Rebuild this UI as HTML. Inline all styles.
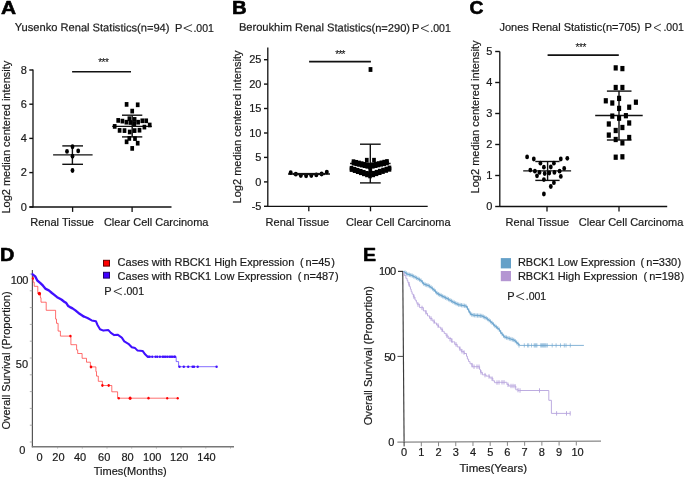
<!DOCTYPE html>
<html><head><meta charset="utf-8"><style>
html,body{margin:0;padding:0;background:#fff;}
svg{display:block;font-family:"Liberation Sans", sans-serif;will-change:transform;}
</style></head><body>
<svg width="685" height="479" viewBox="0 0 685 479">
<rect width="685" height="479" fill="#fff"/>
<text transform="translate(0.97,14.45) scale(1.1,1)" font-size="19" font-weight="bold" fill="#000" stroke="#000" stroke-width="0.6" stroke-linejoin="round">A</text>
<text transform="translate(231.93,14.45) scale(1.07,1)" font-size="19" font-weight="bold" fill="#000" stroke="#000" stroke-width="0.6" stroke-linejoin="round">B</text>
<text transform="translate(469.5,14.2) scale(1.015,1)" font-size="19" font-weight="bold" fill="#000" stroke="#000" stroke-width="0.6" stroke-linejoin="round">C</text>
<text transform="translate(0.05,260.65) scale(1.045,1)" font-size="19" font-weight="bold" fill="#000" stroke="#000" stroke-width="0.6" stroke-linejoin="round">D</text>
<text transform="translate(363.07,260.65) scale(1.03,1)" font-size="19" font-weight="bold" fill="#000" stroke="#000" stroke-width="0.6" stroke-linejoin="round">E</text>
<text x="14.8" y="30.85" font-size="11.12" text-anchor="start" font-weight="normal" fill="#1a1a1a" stroke="#1a1a1a" stroke-width="0.2" transform="rotate(0.29 14.8 30.85)">Yusenko Renal Statistics(n=94)</text>
<text x="174.95000000000002" y="31.6" font-size="11" text-anchor="start" font-weight="normal" fill="#1a1a1a" stroke="#1a1a1a" stroke-width="0.2" >P</text>
<polyline points="192.1,24.6 183.8,28.1 192.1,31.6" fill="none" stroke="#1a1a1a" stroke-width="0.85"/>
<text x="193.44" y="31.6" font-size="10.5" text-anchor="start" font-weight="normal" fill="#1a1a1a" stroke="#1a1a1a" stroke-width="0.2" >.001</text>
<line x1="33" y1="69.4" x2="33" y2="207.6" stroke="#111" stroke-width="1.3" />
<line x1="29.5" y1="207" x2="171.5" y2="207" stroke="#111" stroke-width="1.3" />
<line x1="29.3" y1="70" x2="33" y2="70" stroke="#111" stroke-width="1.4" />
<text x="26.95" y="73.75" font-size="11" text-anchor="end" font-weight="normal" fill="#1a1a1a" stroke="#1a1a1a" stroke-width="0.2" >8</text>
<line x1="29.3" y1="104.2" x2="33" y2="104.2" stroke="#111" stroke-width="1.4" />
<text x="26.95" y="107.95" font-size="11" text-anchor="end" font-weight="normal" fill="#1a1a1a" stroke="#1a1a1a" stroke-width="0.2" >6</text>
<line x1="29.3" y1="138.4" x2="33" y2="138.4" stroke="#111" stroke-width="1.4" />
<text x="26.95" y="142.15" font-size="11" text-anchor="end" font-weight="normal" fill="#1a1a1a" stroke="#1a1a1a" stroke-width="0.2" >4</text>
<line x1="29.3" y1="172.6" x2="33" y2="172.6" stroke="#111" stroke-width="1.4" />
<text x="26.95" y="176.35" font-size="11" text-anchor="end" font-weight="normal" fill="#1a1a1a" stroke="#1a1a1a" stroke-width="0.2" >2</text>
<line x1="29.3" y1="207" x2="33" y2="207" stroke="#111" stroke-width="1.4" />
<text x="26.95" y="210.75" font-size="11" text-anchor="end" font-weight="normal" fill="#1a1a1a" stroke="#1a1a1a" stroke-width="0.2" >0</text>
<line x1="72.6" y1="207" x2="72.6" y2="211.9" stroke="#111" stroke-width="1.3" />
<line x1="132.1" y1="207" x2="132.1" y2="211.9" stroke="#111" stroke-width="1.3" />
<text x="30.3" y="225.7" font-size="11" text-anchor="start" font-weight="normal" fill="#1a1a1a" stroke="#1a1a1a" stroke-width="0.2" >Renal Tissue</text>
<text x="103.9" y="225.9" font-size="11" text-anchor="start" font-weight="normal" fill="#1a1a1a" stroke="#1a1a1a" stroke-width="0.2" >Clear Cell Carcinoma</text>
<text transform="translate(9.8,213.6) rotate(-90)" font-size="11" text-anchor="start" fill="#1a1a1a" stroke="#1a1a1a" stroke-width="0.2">Log2 median centered intensity</text>
<line x1="72.1" y1="71.7" x2="131" y2="71.7" stroke="#111" stroke-width="1.6" />
<text x="98.30" y="65.70" font-size="10" fill="#111" stroke="#111" stroke-width="0.1">*</text>
<text x="101.60" y="65.70" font-size="10" fill="#111" stroke="#111" stroke-width="0.1">*</text>
<text x="105.00" y="65.70" font-size="10" fill="#111" stroke="#111" stroke-width="0.1">*</text>
<line x1="53.1" y1="154.9" x2="92.6" y2="154.9" stroke="#111" stroke-width="1.4" />
<line x1="62.3" y1="145.9" x2="83.0" y2="145.9" stroke="#111" stroke-width="1.4" />
<line x1="62.3" y1="164.3" x2="83.0" y2="164.3" stroke="#111" stroke-width="1.4" />
<line x1="72.4" y1="145.9" x2="72.4" y2="164.3" stroke="#111" stroke-width="1.4" />
<ellipse cx="72.50" cy="146.70" rx="1.9" ry="2.45" fill="#000"/>
<ellipse cx="67.00" cy="151.40" rx="1.9" ry="2.45" fill="#000"/>
<ellipse cx="78.20" cy="150.90" rx="1.9" ry="2.45" fill="#000"/>
<ellipse cx="72.50" cy="156.20" rx="1.9" ry="2.45" fill="#000"/>
<ellipse cx="72.50" cy="170.50" rx="1.9" ry="2.45" fill="#000"/>
<line x1="112.2" y1="126.4" x2="151.8" y2="126.4" stroke="#111" stroke-width="1.4" />
<line x1="122.0" y1="115.2" x2="142.3" y2="115.2" stroke="#111" stroke-width="1.4" />
<line x1="122.0" y1="136.9" x2="142.3" y2="136.9" stroke="#111" stroke-width="1.4" />
<line x1="132.2" y1="115.2" x2="132.2" y2="136.9" stroke="#111" stroke-width="1.4" />
<rect x="124.75" y="102.05" width="3.7" height="4.7" fill="#000"/>
<rect x="135.85" y="102.45" width="3.7" height="4.7" fill="#000"/>
<rect x="130.35" y="108.75" width="3.7" height="4.7" fill="#000"/>
<rect x="116.35" y="118.05" width="3.7" height="4.7" fill="#000"/>
<rect x="120.55" y="118.75" width="3.7" height="4.7" fill="#000"/>
<rect x="124.55" y="119.85" width="3.7" height="4.7" fill="#000"/>
<rect x="127.55" y="116.35" width="3.7" height="4.7" fill="#000"/>
<rect x="128.55" y="120.15" width="3.7" height="4.7" fill="#000"/>
<rect x="132.75" y="117.05" width="3.7" height="4.7" fill="#000"/>
<rect x="132.45" y="121.25" width="3.7" height="4.7" fill="#000"/>
<rect x="136.25" y="119.85" width="3.7" height="4.7" fill="#000"/>
<rect x="140.45" y="118.45" width="3.7" height="4.7" fill="#000"/>
<rect x="144.35" y="118.45" width="3.7" height="4.7" fill="#000"/>
<rect x="147.85" y="122.65" width="3.7" height="4.7" fill="#000"/>
<rect x="142.55" y="124.75" width="3.7" height="4.7" fill="#000"/>
<rect x="112.85" y="124.05" width="3.7" height="4.7" fill="#000"/>
<rect x="117.75" y="128.05" width="3.7" height="4.7" fill="#000"/>
<rect x="122.65" y="128.25" width="3.7" height="4.7" fill="#000"/>
<rect x="127.85" y="129.65" width="3.7" height="4.7" fill="#000"/>
<rect x="132.75" y="128.25" width="3.7" height="4.7" fill="#000"/>
<rect x="137.65" y="127.85" width="3.7" height="4.7" fill="#000"/>
<rect x="127.45" y="136.05" width="3.7" height="4.7" fill="#000"/>
<rect x="133.15" y="136.25" width="3.7" height="4.7" fill="#000"/>
<rect x="124.75" y="139.45" width="3.7" height="4.7" fill="#000"/>
<rect x="135.85" y="140.85" width="3.7" height="4.7" fill="#000"/>
<rect x="130.35" y="146.05" width="3.7" height="4.7" fill="#000"/>
<text x="238.9" y="30.7" font-size="11.1" text-anchor="start" font-weight="normal" fill="#1a1a1a" stroke="#1a1a1a" stroke-width="0.2" transform="rotate(0.4 238.9 30.7)">Beroukhim Renal Statistics(n=290)</text>
<text x="412.04999999999995" y="31.8" font-size="11" text-anchor="start" font-weight="normal" fill="#1a1a1a" stroke="#1a1a1a" stroke-width="0.2" >P</text>
<polyline points="428.8,24.8 421.0,28.3 428.8,31.8" fill="none" stroke="#1a1a1a" stroke-width="0.85"/>
<text x="430.34" y="31.8" font-size="10.5" text-anchor="start" font-weight="normal" fill="#1a1a1a" stroke="#1a1a1a" stroke-width="0.2" >.001</text>
<line x1="267.8" y1="47.5" x2="267.8" y2="206.9" stroke="#111" stroke-width="1.3" />
<line x1="267.8" y1="206.3" x2="427.7" y2="206.3" stroke="#111" stroke-width="1.3" />
<line x1="264.0" y1="59.7" x2="267.8" y2="59.7" stroke="#111" stroke-width="1.4" />
<text x="261.45" y="63.45" font-size="11" text-anchor="end" font-weight="normal" fill="#1a1a1a" stroke="#1a1a1a" stroke-width="0.2" >25</text>
<line x1="264.0" y1="84.1" x2="267.8" y2="84.1" stroke="#111" stroke-width="1.4" />
<text x="261.45" y="87.85" font-size="11" text-anchor="end" font-weight="normal" fill="#1a1a1a" stroke="#1a1a1a" stroke-width="0.2" >20</text>
<line x1="264.0" y1="108.5" x2="267.8" y2="108.5" stroke="#111" stroke-width="1.4" />
<text x="261.45" y="112.25" font-size="11" text-anchor="end" font-weight="normal" fill="#1a1a1a" stroke="#1a1a1a" stroke-width="0.2" >15</text>
<line x1="264.0" y1="133.0" x2="267.8" y2="133.0" stroke="#111" stroke-width="1.4" />
<text x="261.45" y="136.75" font-size="11" text-anchor="end" font-weight="normal" fill="#1a1a1a" stroke="#1a1a1a" stroke-width="0.2" >10</text>
<line x1="264.0" y1="157.4" x2="267.8" y2="157.4" stroke="#111" stroke-width="1.4" />
<text x="261.45" y="161.15" font-size="11" text-anchor="end" font-weight="normal" fill="#1a1a1a" stroke="#1a1a1a" stroke-width="0.2" >5</text>
<line x1="264.0" y1="181.9" x2="267.8" y2="181.9" stroke="#111" stroke-width="1.4" />
<text x="261.45" y="185.65" font-size="11" text-anchor="end" font-weight="normal" fill="#1a1a1a" stroke="#1a1a1a" stroke-width="0.2" >0</text>
<line x1="264.0" y1="206.3" x2="267.8" y2="206.3" stroke="#111" stroke-width="1.4" />
<text x="261.45" y="210.05" font-size="11" text-anchor="end" font-weight="normal" fill="#1a1a1a" stroke="#1a1a1a" stroke-width="0.2" >-5</text>
<line x1="308.8" y1="206.3" x2="308.8" y2="211.3" stroke="#111" stroke-width="1.3" />
<line x1="370.5" y1="206.3" x2="370.5" y2="211.3" stroke="#111" stroke-width="1.3" />
<text x="265.6" y="226.1" font-size="11" text-anchor="start" font-weight="normal" fill="#1a1a1a" stroke="#1a1a1a" stroke-width="0.2" >Renal Tissue</text>
<text x="346.1" y="226.1" font-size="11" text-anchor="start" font-weight="normal" fill="#1a1a1a" stroke="#1a1a1a" stroke-width="0.2" >Clear Cell Carcinoma</text>
<text transform="translate(240.7,203.4) rotate(-90)" font-size="11" text-anchor="start" fill="#1a1a1a" stroke="#1a1a1a" stroke-width="0.2">Log2 median centered intensity</text>
<line x1="309.1" y1="61.6" x2="370.9" y2="61.6" stroke="#111" stroke-width="1.6" />
<text x="335.30" y="58.00" font-size="10" fill="#111" stroke="#111" stroke-width="0.1">*</text>
<text x="338.40" y="58.00" font-size="10" fill="#111" stroke="#111" stroke-width="0.1">*</text>
<text x="341.50" y="58.00" font-size="10" fill="#111" stroke="#111" stroke-width="0.1">*</text>
<line x1="288" y1="174" x2="330" y2="174" stroke="#111" stroke-width="1.3" />
<ellipse cx="290.70" cy="172.70" rx="2.0" ry="2.4" fill="#000"/>
<ellipse cx="295.80" cy="174.20" rx="2.0" ry="2.4" fill="#000"/>
<ellipse cx="300.80" cy="175.60" rx="2.0" ry="2.4" fill="#000"/>
<ellipse cx="306.10" cy="175.80" rx="2.0" ry="2.4" fill="#000"/>
<ellipse cx="311.30" cy="175.60" rx="2.0" ry="2.4" fill="#000"/>
<ellipse cx="316.30" cy="174.90" rx="2.0" ry="2.4" fill="#000"/>
<ellipse cx="321.60" cy="174.00" rx="2.0" ry="2.4" fill="#000"/>
<ellipse cx="326.80" cy="172.10" rx="2.0" ry="2.4" fill="#000"/>
<line x1="350" y1="163.5" x2="390.6" y2="163.5" stroke="#111" stroke-width="1.4" />
<line x1="360" y1="144.2" x2="380.7" y2="144.2" stroke="#111" stroke-width="1.4" />
<line x1="360" y1="182.9" x2="380.7" y2="182.9" stroke="#111" stroke-width="1.4" />
<line x1="370.3" y1="144.2" x2="370.3" y2="182.9" stroke="#111" stroke-width="1.4" />
<rect x="368.60" y="67.10" width="3.8" height="4.8" fill="#000"/>
<rect x="351.70" y="159.30" width="3.6" height="4.6" fill="#000"/>
<rect x="354.45" y="159.97" width="3.6" height="4.6" fill="#000"/>
<rect x="357.20" y="160.63" width="3.6" height="4.6" fill="#000"/>
<rect x="359.95" y="161.30" width="3.6" height="4.6" fill="#000"/>
<rect x="362.70" y="161.97" width="3.6" height="4.6" fill="#000"/>
<rect x="365.45" y="162.63" width="3.6" height="4.6" fill="#000"/>
<rect x="368.20" y="163.30" width="3.6" height="4.6" fill="#000"/>
<rect x="371.03" y="162.60" width="3.6" height="4.6" fill="#000"/>
<rect x="373.87" y="161.90" width="3.6" height="4.6" fill="#000"/>
<rect x="376.70" y="161.20" width="3.6" height="4.6" fill="#000"/>
<rect x="379.53" y="160.50" width="3.6" height="4.6" fill="#000"/>
<rect x="382.37" y="159.80" width="3.6" height="4.6" fill="#000"/>
<rect x="385.20" y="159.10" width="3.6" height="4.6" fill="#000"/>
<rect x="351.70" y="160.90" width="3.6" height="4.6" fill="#000"/>
<rect x="354.45" y="161.53" width="3.6" height="4.6" fill="#000"/>
<rect x="357.20" y="162.17" width="3.6" height="4.6" fill="#000"/>
<rect x="359.95" y="162.80" width="3.6" height="4.6" fill="#000"/>
<rect x="362.70" y="163.43" width="3.6" height="4.6" fill="#000"/>
<rect x="365.45" y="164.07" width="3.6" height="4.6" fill="#000"/>
<rect x="368.20" y="164.70" width="3.6" height="4.6" fill="#000"/>
<rect x="371.03" y="164.03" width="3.6" height="4.6" fill="#000"/>
<rect x="373.87" y="163.37" width="3.6" height="4.6" fill="#000"/>
<rect x="376.70" y="162.70" width="3.6" height="4.6" fill="#000"/>
<rect x="379.53" y="162.03" width="3.6" height="4.6" fill="#000"/>
<rect x="382.37" y="161.37" width="3.6" height="4.6" fill="#000"/>
<rect x="385.20" y="160.70" width="3.6" height="4.6" fill="#000"/>
<rect x="349.70" y="165.90" width="3.6" height="4.6" fill="#000"/>
<rect x="352.78" y="166.92" width="3.6" height="4.6" fill="#000"/>
<rect x="355.87" y="167.93" width="3.6" height="4.6" fill="#000"/>
<rect x="358.95" y="168.95" width="3.6" height="4.6" fill="#000"/>
<rect x="362.03" y="169.97" width="3.6" height="4.6" fill="#000"/>
<rect x="365.12" y="170.98" width="3.6" height="4.6" fill="#000"/>
<rect x="368.20" y="172.00" width="3.6" height="4.6" fill="#000"/>
<rect x="371.45" y="170.93" width="3.6" height="4.6" fill="#000"/>
<rect x="374.70" y="169.87" width="3.6" height="4.6" fill="#000"/>
<rect x="377.95" y="168.80" width="3.6" height="4.6" fill="#000"/>
<rect x="381.20" y="167.73" width="3.6" height="4.6" fill="#000"/>
<rect x="384.45" y="166.67" width="3.6" height="4.6" fill="#000"/>
<rect x="387.70" y="165.60" width="3.6" height="4.6" fill="#000"/>
<rect x="349.70" y="167.30" width="3.6" height="4.6" fill="#000"/>
<rect x="352.78" y="168.37" width="3.6" height="4.6" fill="#000"/>
<rect x="355.87" y="169.43" width="3.6" height="4.6" fill="#000"/>
<rect x="358.95" y="170.50" width="3.6" height="4.6" fill="#000"/>
<rect x="362.03" y="171.57" width="3.6" height="4.6" fill="#000"/>
<rect x="365.12" y="172.63" width="3.6" height="4.6" fill="#000"/>
<rect x="368.20" y="173.70" width="3.6" height="4.6" fill="#000"/>
<rect x="371.45" y="172.60" width="3.6" height="4.6" fill="#000"/>
<rect x="374.70" y="171.50" width="3.6" height="4.6" fill="#000"/>
<rect x="377.95" y="170.40" width="3.6" height="4.6" fill="#000"/>
<rect x="381.20" y="169.30" width="3.6" height="4.6" fill="#000"/>
<rect x="384.45" y="168.20" width="3.6" height="4.6" fill="#000"/>
<rect x="387.70" y="167.10" width="3.6" height="4.6" fill="#000"/>
<rect x="364.95" y="157.85" width="3.7" height="4.7" fill="#000"/>
<rect x="372.15" y="157.85" width="3.7" height="4.7" fill="#000"/>
<rect x="368.45" y="168.15" width="3.7" height="4.7" fill="#000"/>
<line x1="293" y1="174" x2="325" y2="174" stroke="#111" stroke-width="2.2" />
<text x="499.5" y="31.1" font-size="11" text-anchor="start" font-weight="normal" fill="#1a1a1a" stroke="#1a1a1a" stroke-width="0.2" >Jones Renal Statistic(n=705)</text>
<text x="644.4499999999999" y="31.1" font-size="11" text-anchor="start" font-weight="normal" fill="#1a1a1a" stroke="#1a1a1a" stroke-width="0.2" >P</text>
<polyline points="660.9,24.1 654.0,27.6 660.9,31.1" fill="none" stroke="#1a1a1a" stroke-width="0.85"/>
<text x="663.44" y="31.1" font-size="10.5" text-anchor="start" font-weight="normal" fill="#1a1a1a" stroke="#1a1a1a" stroke-width="0.2" >.001</text>
<line x1="499.8" y1="51.4" x2="499.8" y2="207.1" stroke="#111" stroke-width="1.3" />
<line x1="499.8" y1="206.5" x2="667.2" y2="206.5" stroke="#111" stroke-width="1.3" />
<line x1="495.2" y1="51.5" x2="499.8" y2="51.5" stroke="#111" stroke-width="1.4" />
<text x="492.45" y="55.25" font-size="11" text-anchor="end" font-weight="normal" fill="#1a1a1a" stroke="#1a1a1a" stroke-width="0.2" >5</text>
<line x1="495.2" y1="82.5" x2="499.8" y2="82.5" stroke="#111" stroke-width="1.4" />
<text x="492.45" y="86.25" font-size="11" text-anchor="end" font-weight="normal" fill="#1a1a1a" stroke="#1a1a1a" stroke-width="0.2" >4</text>
<line x1="495.2" y1="113.5" x2="499.8" y2="113.5" stroke="#111" stroke-width="1.4" />
<text x="492.45" y="117.25" font-size="11" text-anchor="end" font-weight="normal" fill="#1a1a1a" stroke="#1a1a1a" stroke-width="0.2" >3</text>
<line x1="495.2" y1="144.5" x2="499.8" y2="144.5" stroke="#111" stroke-width="1.4" />
<text x="492.45" y="148.25" font-size="11" text-anchor="end" font-weight="normal" fill="#1a1a1a" stroke="#1a1a1a" stroke-width="0.2" >2</text>
<line x1="495.2" y1="175.5" x2="499.8" y2="175.5" stroke="#111" stroke-width="1.4" />
<text x="492.45" y="179.25" font-size="11" text-anchor="end" font-weight="normal" fill="#1a1a1a" stroke="#1a1a1a" stroke-width="0.2" >1</text>
<line x1="495.2" y1="206.5" x2="499.8" y2="206.5" stroke="#111" stroke-width="1.4" />
<text x="492.45" y="210.25" font-size="11" text-anchor="end" font-weight="normal" fill="#1a1a1a" stroke="#1a1a1a" stroke-width="0.2" >0</text>
<line x1="547" y1="206.5" x2="547" y2="211.5" stroke="#111" stroke-width="1.3" />
<line x1="619" y1="206.5" x2="619" y2="211.5" stroke="#111" stroke-width="1.3" />
<text x="505.6" y="225.9" font-size="11" text-anchor="start" font-weight="normal" fill="#1a1a1a" stroke="#1a1a1a" stroke-width="0.2" >Renal Tissue</text>
<text x="578.8" y="225.9" font-size="11" text-anchor="start" font-weight="normal" fill="#1a1a1a" stroke="#1a1a1a" stroke-width="0.2" >Clear Cell Carcinoma</text>
<text transform="translate(478.5,193.4) rotate(-90)" font-size="11" text-anchor="start" fill="#1a1a1a" stroke="#1a1a1a" stroke-width="0.2">Log2 median centered intensity</text>
<line x1="547.6" y1="55.1" x2="618.8" y2="55.1" stroke="#111" stroke-width="1.6" />
<text x="575.40" y="51.30" font-size="10" fill="#111" stroke="#111" stroke-width="0.1">*</text>
<text x="578.90" y="51.30" font-size="10" fill="#111" stroke="#111" stroke-width="0.1">*</text>
<text x="582.40" y="51.30" font-size="10" fill="#111" stroke="#111" stroke-width="0.1">*</text>
<line x1="523.2" y1="170.9" x2="571.1" y2="170.9" stroke="#111" stroke-width="1.4" />
<line x1="535.3" y1="161.5" x2="559.6" y2="161.5" stroke="#111" stroke-width="1.4" />
<line x1="535.3" y1="180.4" x2="559.6" y2="180.4" stroke="#111" stroke-width="1.4" />
<line x1="547.6" y1="161.5" x2="547.6" y2="180.4" stroke="#111" stroke-width="1.4" />
<ellipse cx="527.10" cy="156.90" rx="1.9" ry="2.4" fill="#000"/>
<ellipse cx="533.80" cy="159.00" rx="1.9" ry="2.4" fill="#000"/>
<ellipse cx="560.80" cy="159.00" rx="1.9" ry="2.4" fill="#000"/>
<ellipse cx="567.30" cy="158.30" rx="1.9" ry="2.4" fill="#000"/>
<ellipse cx="540.40" cy="163.20" rx="1.9" ry="2.4" fill="#000"/>
<ellipse cx="553.90" cy="163.20" rx="1.9" ry="2.4" fill="#000"/>
<ellipse cx="543.90" cy="167.20" rx="1.9" ry="2.4" fill="#000"/>
<ellipse cx="550.80" cy="167.00" rx="1.9" ry="2.4" fill="#000"/>
<ellipse cx="530.30" cy="170.10" rx="1.9" ry="2.4" fill="#000"/>
<ellipse cx="534.90" cy="171.20" rx="1.9" ry="2.4" fill="#000"/>
<ellipse cx="539.50" cy="172.40" rx="1.9" ry="2.4" fill="#000"/>
<ellipse cx="537.00" cy="175.80" rx="1.9" ry="2.4" fill="#000"/>
<ellipse cx="544.70" cy="173.50" rx="1.9" ry="2.4" fill="#000"/>
<ellipse cx="549.30" cy="173.00" rx="1.9" ry="2.4" fill="#000"/>
<ellipse cx="554.40" cy="172.40" rx="1.9" ry="2.4" fill="#000"/>
<ellipse cx="559.60" cy="171.20" rx="1.9" ry="2.4" fill="#000"/>
<ellipse cx="564.20" cy="168.40" rx="1.9" ry="2.4" fill="#000"/>
<ellipse cx="560.80" cy="176.40" rx="1.9" ry="2.4" fill="#000"/>
<ellipse cx="543.90" cy="179.60" rx="1.9" ry="2.4" fill="#000"/>
<ellipse cx="553.90" cy="182.70" rx="1.9" ry="2.4" fill="#000"/>
<ellipse cx="550.80" cy="186.50" rx="1.9" ry="2.4" fill="#000"/>
<ellipse cx="543.90" cy="194.00" rx="1.9" ry="2.4" fill="#000"/>
<line x1="595.2" y1="115.5" x2="642.7" y2="115.5" stroke="#111" stroke-width="1.4" />
<line x1="606.9" y1="91.1" x2="631.5" y2="91.1" stroke="#111" stroke-width="1.4" />
<line x1="606.9" y1="140.0" x2="631.5" y2="140.0" stroke="#111" stroke-width="1.4" />
<line x1="619.0" y1="91.1" x2="619.0" y2="140.0" stroke="#111" stroke-width="1.4" />
<rect x="613.65" y="65.25" width="4.1" height="5.3" fill="#000"/>
<rect x="620.35" y="65.95" width="4.1" height="5.3" fill="#000"/>
<rect x="613.65" y="84.85" width="4.1" height="5.3" fill="#000"/>
<rect x="620.35" y="84.85" width="4.1" height="5.3" fill="#000"/>
<rect x="617.05" y="95.75" width="4.1" height="5.3" fill="#000"/>
<rect x="603.75" y="98.15" width="4.1" height="5.3" fill="#000"/>
<rect x="610.25" y="100.35" width="4.1" height="5.3" fill="#000"/>
<rect x="633.85" y="99.55" width="4.1" height="5.3" fill="#000"/>
<rect x="617.05" y="105.75" width="4.1" height="5.3" fill="#000"/>
<rect x="627.15" y="104.55" width="4.1" height="5.3" fill="#000"/>
<rect x="610.25" y="113.45" width="4.1" height="5.3" fill="#000"/>
<rect x="623.85" y="113.05" width="4.1" height="5.3" fill="#000"/>
<rect x="617.05" y="115.55" width="4.1" height="5.3" fill="#000"/>
<rect x="606.75" y="121.35" width="4.1" height="5.3" fill="#000"/>
<rect x="627.15" y="120.35" width="4.1" height="5.3" fill="#000"/>
<rect x="620.35" y="124.85" width="4.1" height="5.3" fill="#000"/>
<rect x="613.65" y="127.85" width="4.1" height="5.3" fill="#000"/>
<rect x="606.75" y="132.45" width="4.1" height="5.3" fill="#000"/>
<rect x="627.15" y="134.85" width="4.1" height="5.3" fill="#000"/>
<rect x="613.65" y="136.85" width="4.1" height="5.3" fill="#000"/>
<rect x="620.35" y="140.25" width="4.1" height="5.3" fill="#000"/>
<rect x="613.65" y="154.55" width="4.1" height="5.3" fill="#000"/>
<rect x="620.35" y="154.15" width="4.1" height="5.3" fill="#000"/>
<line x1="32.4" y1="270" x2="32.4" y2="447.3" stroke="#555" stroke-width="1.2" />
<line x1="31.799999999999997" y1="446.8" x2="234" y2="446.8" stroke="#777" stroke-width="1.6" />
<line x1="29.8" y1="274.0" x2="32.4" y2="274.0" stroke="#999" stroke-width="0.8" />
<line x1="29.8" y1="290.8" x2="32.4" y2="290.8" stroke="#999" stroke-width="0.8" />
<line x1="29.8" y1="307.6" x2="32.4" y2="307.6" stroke="#999" stroke-width="0.8" />
<line x1="29.8" y1="324.4" x2="32.4" y2="324.4" stroke="#999" stroke-width="0.8" />
<line x1="29.8" y1="341.2" x2="32.4" y2="341.2" stroke="#999" stroke-width="0.8" />
<line x1="29.8" y1="358.0" x2="32.4" y2="358.0" stroke="#999" stroke-width="0.8" />
<line x1="29.8" y1="374.8" x2="32.4" y2="374.8" stroke="#999" stroke-width="0.8" />
<line x1="29.8" y1="391.6" x2="32.4" y2="391.6" stroke="#999" stroke-width="0.8" />
<line x1="29.8" y1="408.4" x2="32.4" y2="408.4" stroke="#999" stroke-width="0.8" />
<line x1="29.8" y1="425.20000000000005" x2="32.4" y2="425.20000000000005" stroke="#999" stroke-width="0.8" />
<line x1="29.8" y1="442.0" x2="32.4" y2="442.0" stroke="#999" stroke-width="0.8" />
<line x1="57.6" y1="446.8" x2="57.6" y2="448.5" stroke="#999" stroke-width="0.8" />
<line x1="82.3" y1="446.8" x2="82.3" y2="448.5" stroke="#999" stroke-width="0.8" />
<line x1="107.0" y1="446.8" x2="107.0" y2="448.5" stroke="#999" stroke-width="0.8" />
<line x1="131.7" y1="446.8" x2="131.7" y2="448.5" stroke="#999" stroke-width="0.8" />
<line x1="156.4" y1="446.8" x2="156.4" y2="448.5" stroke="#999" stroke-width="0.8" />
<line x1="181.1" y1="446.8" x2="181.1" y2="448.5" stroke="#999" stroke-width="0.8" />
<line x1="205.79999999999998" y1="446.8" x2="205.79999999999998" y2="448.5" stroke="#999" stroke-width="0.8" />
<line x1="230.5" y1="446.8" x2="230.5" y2="448.5" stroke="#999" stroke-width="0.8" />
<text x="28.1" y="283.8" font-size="11" text-anchor="end" font-weight="normal" fill="#1a1a1a" stroke="#1a1a1a" stroke-width="0.2" letter-spacing="-0.35">100</text>
<text x="28.1" y="367.9" font-size="11" text-anchor="end" font-weight="normal" fill="#1a1a1a" stroke="#1a1a1a" stroke-width="0.2" >50</text>
<text x="25.4" y="453.6" font-size="11" text-anchor="end" font-weight="normal" fill="#1a1a1a" stroke="#1a1a1a" stroke-width="0.2" >0</text>
<text x="39.5" y="461.4" font-size="11" text-anchor="middle" font-weight="normal" fill="#1a1a1a" stroke="#1a1a1a" stroke-width="0.2" >0</text>
<text x="58.4" y="461.4" font-size="11" text-anchor="middle" font-weight="normal" fill="#1a1a1a" stroke="#1a1a1a" stroke-width="0.2" >20</text>
<text x="80.1" y="461.4" font-size="11" text-anchor="middle" font-weight="normal" fill="#1a1a1a" stroke="#1a1a1a" stroke-width="0.2" >40</text>
<text x="104.2" y="461.4" font-size="11" text-anchor="middle" font-weight="normal" fill="#1a1a1a" stroke="#1a1a1a" stroke-width="0.2" >60</text>
<text x="127.5" y="461.4" font-size="11" text-anchor="middle" font-weight="normal" fill="#1a1a1a" stroke="#1a1a1a" stroke-width="0.2" >80</text>
<text x="152.3" y="461.4" font-size="11" text-anchor="middle" font-weight="normal" fill="#1a1a1a" stroke="#1a1a1a" stroke-width="0.2" >100</text>
<text x="179.2" y="461.4" font-size="11" text-anchor="middle" font-weight="normal" fill="#1a1a1a" stroke="#1a1a1a" stroke-width="0.2" >120</text>
<text x="206.5" y="461.4" font-size="11" text-anchor="middle" font-weight="normal" fill="#1a1a1a" stroke="#1a1a1a" stroke-width="0.2" >140</text>
<text x="93.8" y="475.1" font-size="11" text-anchor="start" font-weight="normal" fill="#1a1a1a" stroke="#1a1a1a" stroke-width="0.2" >Times(Months)</text>
<text transform="translate(10.3,429.6) rotate(-90)" font-size="11" text-anchor="start" fill="#1a1a1a" stroke="#1a1a1a" stroke-width="0.2">Overall Survival (Proportion)</text>
<rect x="103.5" y="260.3" width="6" height="5.8" fill="#ff0000" stroke="#600" stroke-width="1"/>
<rect x="103.5" y="272.3" width="6" height="5.8" fill="#4000ff" stroke="#200070" stroke-width="1"/>
<text x="117.6" y="265.9" font-size="11" text-anchor="start" font-weight="normal" fill="#1a1a1a" stroke="#1a1a1a" stroke-width="0.2" >Cases with RBCK1 High Expression</text>
<text x="117.6" y="279.7" font-size="11" text-anchor="start" font-weight="normal" fill="#1a1a1a" stroke="#1a1a1a" stroke-width="0.2" >Cases with RBCK1 Low Expression</text>
<text x="300.0" y="265.9" font-size="11" text-anchor="start" font-weight="normal" fill="#1a1a1a" stroke="#1a1a1a" stroke-width="0.2" >(</text>
<text x="305.6" y="265.9" font-size="11" text-anchor="start" font-weight="normal" fill="#1a1a1a" stroke="#1a1a1a" stroke-width="0.2" >n=45</text>
<text x="331.2" y="265.9" font-size="11" text-anchor="start" font-weight="normal" fill="#1a1a1a" stroke="#1a1a1a" stroke-width="0.2" >)</text>
<text x="297.8" y="279.7" font-size="11" text-anchor="start" font-weight="normal" fill="#1a1a1a" stroke="#1a1a1a" stroke-width="0.2" >(</text>
<text x="303.4" y="279.7" font-size="11" text-anchor="start" font-weight="normal" fill="#1a1a1a" stroke="#1a1a1a" stroke-width="0.2" >n=487</text>
<text x="335.0" y="279.7" font-size="11" text-anchor="start" font-weight="normal" fill="#1a1a1a" stroke="#1a1a1a" stroke-width="0.2" >)</text>
<text x="104.25" y="294.9" font-size="11" text-anchor="start" font-weight="normal" fill="#1a1a1a" stroke="#1a1a1a" stroke-width="0.2" >P</text>
<polyline points="121.9,287.9 113.9,291.4 121.9,294.9" fill="none" stroke="#1a1a1a" stroke-width="0.85"/>
<text x="123.53999999999999" y="294.9" font-size="10.5" text-anchor="start" font-weight="normal" fill="#1a1a1a" stroke="#1a1a1a" stroke-width="0.2" >.001</text>
<polyline points="32.6,275.3 33.1,275.3 33.1,282.1 34.2,282.1 34.2,286.3 37.8,286.3 37.8,293.5 40.4,293.5 40.4,297.7 41.0,297.7 41.0,302.2 46.2,302.2 46.2,310.3 55.6,310.3 55.6,319.1 56.5,319.1 56.5,323.3 58.1,323.3 58.1,331.1 60.4,331.1 60.4,336.1 70.9,336.1 70.9,344.7 76.6,344.7 76.6,349.9 77.7,349.9 77.7,353.5 82.1,353.5 82.1,358.3 86.5,358.3 86.5,362.2 90.4,362.2 90.4,366.9 95.9,366.9 95.9,371.6 96.5,371.6 96.5,376.1 98.3,376.1 98.3,381.3 102.4,381.3 102.4,385.5 111.8,385.5 111.8,391.8 117.6,391.8 117.6,398.2 178.3,398.2" fill="none" stroke="#ff2a2a" stroke-width="0.9" stroke-linejoin="miter" opacity="0.75"/>
<ellipse cx="32.90" cy="278.40" rx="1.1" ry="1.265" fill="#ff0000"/>
<ellipse cx="39.40" cy="293.60" rx="1.6" ry="1.8399999999999999" fill="#ff0000"/>
<ellipse cx="70.40" cy="336.10" rx="1.2" ry="1.38" fill="#ff0000"/>
<ellipse cx="91.00" cy="366.90" rx="1.3" ry="1.4949999999999999" fill="#ff0000"/>
<ellipse cx="102.40" cy="385.50" rx="1.2" ry="1.38" fill="#ff0000"/>
<ellipse cx="108.70" cy="385.50" rx="1.2" ry="1.38" fill="#ff0000"/>
<ellipse cx="118.80" cy="398.20" rx="1.1" ry="1.265" fill="#ff0000"/>
<ellipse cx="130.10" cy="398.20" rx="1.5" ry="1.7249999999999999" fill="#ff0000"/>
<ellipse cx="148.50" cy="398.20" rx="1.2" ry="1.38" fill="#ff0000"/>
<ellipse cx="167.20" cy="398.20" rx="1.1" ry="1.265" fill="#ff0000"/>
<ellipse cx="177.70" cy="398.20" rx="1.1" ry="1.265" fill="#ff0000"/>
<polyline points="32.6,274.3 35.2,276.4 37.3,280.5 40.4,283.1 43.0,285.7 45.7,288.9 48.8,290.4 51.9,293.0 54.0,294.6 57.1,297.2 60.0,298.8 61.7,299.8 64.2,301.7 66.3,303.1 68.1,305.9 70.0,307.1 72.5,308.4 75.4,310.4 77.5,312.1 79.6,313.8 83.3,316.2" fill="none" stroke="#4010ff" stroke-width="2.35" stroke-linejoin="round" stroke-linecap="round"/>
<polyline points="83.3,316.2 87.5,318.0 91.7,320.4 95.9,321.2 97.5,325.0 100.0,329.2 103.4,330.6 108.4,330.1 110.9,332.9 114.2,335.1 117.6,334.7 121.8,337.6 124.3,341.4 128.4,343.8 131.8,347.3 135.1,348.1 137.6,350.6 142.6,350.9 145.1,354.3 147.6,356.8" fill="none" stroke="#4010ff" stroke-width="2.05" stroke-linejoin="round" stroke-linecap="round"/>
<polyline points="147.6,356.8 176.2,356.8 176.2,361.6 178.6,361.6 178.6,366.7 216.6,366.7" fill="none" stroke="#5533ff" stroke-width="0.9" opacity="0.8"/>
<ellipse cx="148.50" cy="356.80" rx="1.2" ry="1.3" fill="#4010ff"/>
<ellipse cx="149.70" cy="356.80" rx="1.2" ry="1.3" fill="#4010ff"/>
<ellipse cx="152.30" cy="356.80" rx="1.2" ry="1.3" fill="#4010ff"/>
<ellipse cx="155.50" cy="356.80" rx="1.2" ry="1.3" fill="#4010ff"/>
<ellipse cx="157.30" cy="356.80" rx="1.2" ry="1.3" fill="#4010ff"/>
<ellipse cx="159.90" cy="356.80" rx="1.2" ry="1.3" fill="#4010ff"/>
<ellipse cx="162.50" cy="356.80" rx="1.2" ry="1.3" fill="#4010ff"/>
<ellipse cx="164.00" cy="356.80" rx="1.2" ry="1.3" fill="#4010ff"/>
<ellipse cx="165.70" cy="356.80" rx="1.2" ry="1.3" fill="#4010ff"/>
<ellipse cx="167.50" cy="356.80" rx="1.2" ry="1.3" fill="#4010ff"/>
<ellipse cx="169.50" cy="356.80" rx="1.2" ry="1.3" fill="#4010ff"/>
<ellipse cx="171.00" cy="356.80" rx="1.2" ry="1.3" fill="#4010ff"/>
<ellipse cx="172.40" cy="356.80" rx="1.2" ry="1.3" fill="#4010ff"/>
<ellipse cx="174.20" cy="356.80" rx="1.2" ry="1.3" fill="#4010ff"/>
<ellipse cx="175.00" cy="356.80" rx="1.2" ry="1.3" fill="#4010ff"/>
<ellipse cx="179.50" cy="366.70" rx="1.2" ry="1.3" fill="#4010ff"/>
<ellipse cx="183.80" cy="366.70" rx="1.2" ry="1.3" fill="#4010ff"/>
<ellipse cx="188.20" cy="366.70" rx="1.2" ry="1.3" fill="#4010ff"/>
<ellipse cx="192.60" cy="366.70" rx="1.2" ry="1.3" fill="#4010ff"/>
<ellipse cx="194.00" cy="366.70" rx="1.2" ry="1.3" fill="#4010ff"/>
<ellipse cx="197.70" cy="366.70" rx="1.2" ry="1.3" fill="#4010ff"/>
<ellipse cx="216.60" cy="366.70" rx="1.2" ry="1.3" fill="#4010ff"/>
<line x1="402.75" y1="271.0" x2="404.1" y2="442.6" stroke="#3a3a3a" stroke-width="1.15" />
<line x1="397.4" y1="442.15" x2="601" y2="441.05" stroke="#888" stroke-width="1.2" />
<line x1="398.0" y1="271.4" x2="403.0" y2="271.4" stroke="#333" stroke-width="1.2" />
<line x1="397.5" y1="356.4" x2="403.6" y2="356.4" stroke="#444" stroke-width="1.0" />
<text x="395.6" y="275.4" font-size="11" text-anchor="end" font-weight="normal" fill="#1a1a1a" stroke="#1a1a1a" stroke-width="0.2" letter-spacing="-0.6">100</text>
<text x="394.8" y="361.0" font-size="11" text-anchor="end" font-weight="normal" fill="#1a1a1a" stroke="#1a1a1a" stroke-width="0.2" letter-spacing="-0.8">50</text>
<text x="394.4" y="446.0" font-size="11" text-anchor="end" font-weight="normal" fill="#1a1a1a" stroke="#1a1a1a" stroke-width="0.2" >0</text>
<line x1="404.1" y1="442.11382" x2="404.1" y2="446.41382" stroke="#333" stroke-width="1.0" />
<text x="404.1" y="456.3" font-size="11" text-anchor="middle" font-weight="normal" fill="#1a1a1a" stroke="#1a1a1a" stroke-width="0.2" >0</text>
<line x1="421.32000000000005" y1="442.020832" x2="421.32000000000005" y2="446.320832" stroke="#888" stroke-width="1.0" />
<text x="421.32000000000005" y="456.3" font-size="11" text-anchor="middle" font-weight="normal" fill="#1a1a1a" stroke="#1a1a1a" stroke-width="0.2" >1</text>
<line x1="438.54" y1="441.927844" x2="438.54" y2="446.227844" stroke="#888" stroke-width="1.0" />
<text x="438.54" y="456.3" font-size="11" text-anchor="middle" font-weight="normal" fill="#1a1a1a" stroke="#1a1a1a" stroke-width="0.2" >2</text>
<line x1="455.76" y1="441.834856" x2="455.76" y2="446.134856" stroke="#888" stroke-width="1.0" />
<text x="455.76" y="456.3" font-size="11" text-anchor="middle" font-weight="normal" fill="#1a1a1a" stroke="#1a1a1a" stroke-width="0.2" >3</text>
<line x1="472.98" y1="441.74186799999995" x2="472.98" y2="446.04186799999997" stroke="#888" stroke-width="1.0" />
<text x="472.98" y="456.3" font-size="11" text-anchor="middle" font-weight="normal" fill="#1a1a1a" stroke="#1a1a1a" stroke-width="0.2" >4</text>
<line x1="490.20000000000005" y1="441.64887999999996" x2="490.20000000000005" y2="445.94888" stroke="#888" stroke-width="1.0" />
<text x="490.20000000000005" y="456.3" font-size="11" text-anchor="middle" font-weight="normal" fill="#1a1a1a" stroke="#1a1a1a" stroke-width="0.2" >5</text>
<line x1="507.42" y1="441.555892" x2="507.42" y2="445.855892" stroke="#888" stroke-width="1.0" />
<text x="507.42" y="456.3" font-size="11" text-anchor="middle" font-weight="normal" fill="#1a1a1a" stroke="#1a1a1a" stroke-width="0.2" >6</text>
<line x1="524.64" y1="441.462904" x2="524.64" y2="445.762904" stroke="#888" stroke-width="1.0" />
<text x="524.64" y="456.3" font-size="11" text-anchor="middle" font-weight="normal" fill="#1a1a1a" stroke="#1a1a1a" stroke-width="0.2" >7</text>
<line x1="541.86" y1="441.369916" x2="541.86" y2="445.669916" stroke="#888" stroke-width="1.0" />
<text x="541.86" y="456.3" font-size="11" text-anchor="middle" font-weight="normal" fill="#1a1a1a" stroke="#1a1a1a" stroke-width="0.2" >8</text>
<line x1="559.08" y1="441.276928" x2="559.08" y2="445.576928" stroke="#888" stroke-width="1.0" />
<text x="559.08" y="456.3" font-size="11" text-anchor="middle" font-weight="normal" fill="#1a1a1a" stroke="#1a1a1a" stroke-width="0.2" >9</text>
<line x1="576.3" y1="441.18393999999995" x2="576.3" y2="445.48393999999996" stroke="#888" stroke-width="1.0" />
<text x="577.5999999999999" y="456.3" font-size="11" text-anchor="middle" font-weight="normal" fill="#1a1a1a" stroke="#1a1a1a" stroke-width="0.2" >10</text>
<text x="459.5" y="471.7" font-size="11.5" text-anchor="start" font-weight="normal" fill="#1a1a1a" stroke="#1a1a1a" stroke-width="0.2" >Times(Years)</text>
<text transform="translate(371.5,425.3) rotate(-90)" font-size="11.1" text-anchor="start" fill="#1a1a1a" stroke="#1a1a1a" stroke-width="0.2">Overall Survival (Proportion)</text>
<rect x="500.8" y="258.1" width="10.2" height="10.3" fill="#64a0c8"/>
<rect x="500.8" y="271.0" width="10.2" height="10.2" fill="#b496d2"/>
<text x="517.9" y="266.2" font-size="11" text-anchor="start" font-weight="normal" fill="#1a1a1a" stroke="#1a1a1a" stroke-width="0.2" >RBCK1 Low Expression</text>
<text x="517.9" y="279.9" font-size="11" text-anchor="start" font-weight="normal" fill="#1a1a1a" stroke="#1a1a1a" stroke-width="0.2" >RBCK1 High Expression</text>
<text x="640.5" y="266.2" font-size="11" text-anchor="start" font-weight="normal" fill="#1a1a1a" stroke="#1a1a1a" stroke-width="0.2" >(</text>
<text x="646.3" y="266.2" font-size="11" text-anchor="start" font-weight="normal" fill="#1a1a1a" stroke="#1a1a1a" stroke-width="0.2" >n=330</text>
<text x="677.5" y="266.2" font-size="11" text-anchor="start" font-weight="normal" fill="#1a1a1a" stroke="#1a1a1a" stroke-width="0.2" >)</text>
<text x="643.4" y="279.9" font-size="11" text-anchor="start" font-weight="normal" fill="#1a1a1a" stroke="#1a1a1a" stroke-width="0.2" >(</text>
<text x="649.2" y="279.9" font-size="11" text-anchor="start" font-weight="normal" fill="#1a1a1a" stroke="#1a1a1a" stroke-width="0.2" >n=198</text>
<text x="680.4" y="279.9" font-size="11" text-anchor="start" font-weight="normal" fill="#1a1a1a" stroke="#1a1a1a" stroke-width="0.2" >)</text>
<text x="507.15" y="299.8" font-size="11" text-anchor="start" font-weight="normal" fill="#1a1a1a" stroke="#1a1a1a" stroke-width="0.2" >P</text>
<polyline points="524.1,292.8 516.4,296.3 524.1,299.8" fill="none" stroke="#1a1a1a" stroke-width="0.85"/>
<text x="525.74" y="299.8" font-size="10.5" text-anchor="start" font-weight="normal" fill="#1a1a1a" stroke="#1a1a1a" stroke-width="0.2" >.001</text>
<polyline points="403.3,271.3 407.5,274.2 411.7,275.4 416.7,278.0 420.9,280.4 424.2,284.2 429.2,285.9 433.4,289.2 437.6,293.7 443.4,296.7 448.4,299.2 453.4,302.1 458.4,304.6 466.3,306.1 468.5,310.0 470.7,314.2 473.5,315.2 481.8,315.9 486.8,318.4 491.0,321.8 494.8,325.7 498.8,328.9 501.2,332.9 504.5,336.9 509.3,338.5 514.1,340.1 517.3,343.0 519.7,345.4" fill="none" stroke="#6ea6cf" stroke-width="1.3" stroke-linejoin="round"/>
<polyline points="519.7,345.4 583.9,345.4" fill="none" stroke="#6ea6cf" stroke-width="1.0" opacity="0.85"/>
<line x1="405.0" y1="270.37" x2="405.0" y2="274.57" stroke="#6ea6cf" stroke-width="0.9" opacity="0.75"/>
<line x1="406.45" y1="271.37" x2="406.45" y2="275.57" stroke="#6ea6cf" stroke-width="0.9" opacity="0.75"/>
<line x1="407.9" y1="272.21" x2="407.9" y2="276.41" stroke="#6ea6cf" stroke-width="0.9" opacity="0.75"/>
<line x1="409.35" y1="272.63" x2="409.35" y2="276.83" stroke="#6ea6cf" stroke-width="0.9" opacity="0.75"/>
<line x1="410.8" y1="273.04" x2="410.8" y2="277.24" stroke="#6ea6cf" stroke-width="0.9" opacity="0.75"/>
<line x1="412.25" y1="273.59" x2="412.25" y2="277.79" stroke="#6ea6cf" stroke-width="0.9" opacity="0.75"/>
<line x1="413.7" y1="274.34" x2="413.7" y2="278.54" stroke="#6ea6cf" stroke-width="0.9" opacity="0.75"/>
<line x1="415.15" y1="275.09" x2="415.15" y2="279.29" stroke="#6ea6cf" stroke-width="0.9" opacity="0.75"/>
<line x1="416.6" y1="275.85" x2="416.6" y2="280.05" stroke="#6ea6cf" stroke-width="0.9" opacity="0.75"/>
<line x1="418.05" y1="276.67" x2="418.05" y2="280.87" stroke="#6ea6cf" stroke-width="0.9" opacity="0.75"/>
<line x1="419.5" y1="277.5" x2="419.5" y2="281.7" stroke="#6ea6cf" stroke-width="0.9" opacity="0.75"/>
<line x1="420.95" y1="278.36" x2="420.95" y2="282.56" stroke="#6ea6cf" stroke-width="0.9" opacity="0.75"/>
<line x1="422.4" y1="280.03" x2="422.4" y2="284.23" stroke="#6ea6cf" stroke-width="0.9" opacity="0.75"/>
<line x1="423.85" y1="281.7" x2="423.85" y2="285.9" stroke="#6ea6cf" stroke-width="0.9" opacity="0.75"/>
<line x1="425.3" y1="282.47" x2="425.3" y2="286.67" stroke="#6ea6cf" stroke-width="0.9" opacity="0.75"/>
<line x1="426.75" y1="282.97" x2="426.75" y2="287.17" stroke="#6ea6cf" stroke-width="0.9" opacity="0.75"/>
<line x1="428.2" y1="283.46" x2="428.2" y2="287.66" stroke="#6ea6cf" stroke-width="0.9" opacity="0.75"/>
<line x1="429.65" y1="284.15" x2="429.65" y2="288.35" stroke="#6ea6cf" stroke-width="0.9" opacity="0.75"/>
<line x1="431.1" y1="285.29" x2="431.1" y2="289.49" stroke="#6ea6cf" stroke-width="0.9" opacity="0.75"/>
<line x1="432.55" y1="286.43" x2="432.55" y2="290.63" stroke="#6ea6cf" stroke-width="0.9" opacity="0.75"/>
<line x1="434.0" y1="287.74" x2="434.0" y2="291.94" stroke="#6ea6cf" stroke-width="0.9" opacity="0.75"/>
<line x1="435.45" y1="289.3" x2="435.45" y2="293.5" stroke="#6ea6cf" stroke-width="0.9" opacity="0.75"/>
<line x1="436.9" y1="290.85" x2="436.9" y2="295.05" stroke="#6ea6cf" stroke-width="0.9" opacity="0.75"/>
<line x1="438.35" y1="291.99" x2="438.35" y2="296.19" stroke="#6ea6cf" stroke-width="0.9" opacity="0.75"/>
<line x1="439.8" y1="292.74" x2="439.8" y2="296.94" stroke="#6ea6cf" stroke-width="0.9" opacity="0.75"/>
<line x1="441.25" y1="293.49" x2="441.25" y2="297.69" stroke="#6ea6cf" stroke-width="0.9" opacity="0.75"/>
<line x1="442.7" y1="294.24" x2="442.7" y2="298.44" stroke="#6ea6cf" stroke-width="0.9" opacity="0.75"/>
<line x1="444.15" y1="294.97" x2="444.15" y2="299.17" stroke="#6ea6cf" stroke-width="0.9" opacity="0.75"/>
<line x1="445.6" y1="295.7" x2="445.6" y2="299.9" stroke="#6ea6cf" stroke-width="0.9" opacity="0.75"/>
<line x1="447.05" y1="296.42" x2="447.05" y2="300.62" stroke="#6ea6cf" stroke-width="0.9" opacity="0.75"/>
<line x1="448.5" y1="297.16" x2="448.5" y2="301.36" stroke="#6ea6cf" stroke-width="0.9" opacity="0.75"/>
<line x1="449.95" y1="298.0" x2="449.95" y2="302.2" stroke="#6ea6cf" stroke-width="0.9" opacity="0.75"/>
<line x1="451.4" y1="298.84" x2="451.4" y2="303.04" stroke="#6ea6cf" stroke-width="0.9" opacity="0.75"/>
<line x1="452.85" y1="299.68" x2="452.85" y2="303.88" stroke="#6ea6cf" stroke-width="0.9" opacity="0.75"/>
<line x1="454.3" y1="300.45" x2="454.3" y2="304.65" stroke="#6ea6cf" stroke-width="0.9" opacity="0.75"/>
<line x1="455.75" y1="301.17" x2="455.75" y2="305.37" stroke="#6ea6cf" stroke-width="0.9" opacity="0.75"/>
<line x1="457.2" y1="301.9" x2="457.2" y2="306.1" stroke="#6ea6cf" stroke-width="0.9" opacity="0.75"/>
<line x1="458.65" y1="302.55" x2="458.65" y2="306.75" stroke="#6ea6cf" stroke-width="0.9" opacity="0.75"/>
<line x1="460.1" y1="302.82" x2="460.1" y2="307.02" stroke="#6ea6cf" stroke-width="0.9" opacity="0.75"/>
<line x1="461.55" y1="303.1" x2="461.55" y2="307.3" stroke="#6ea6cf" stroke-width="0.9" opacity="0.75"/>
<line x1="463.0" y1="303.37" x2="463.0" y2="307.57" stroke="#6ea6cf" stroke-width="0.9" opacity="0.75"/>
<line x1="464.45" y1="303.65" x2="464.45" y2="307.85" stroke="#6ea6cf" stroke-width="0.9" opacity="0.75"/>
<line x1="465.9" y1="303.92" x2="465.9" y2="308.12" stroke="#6ea6cf" stroke-width="0.9" opacity="0.75"/>
<line x1="467.35" y1="305.86" x2="467.35" y2="310.06" stroke="#6ea6cf" stroke-width="0.9" opacity="0.75"/>
<line x1="468.8" y1="308.47" x2="468.8" y2="312.67" stroke="#6ea6cf" stroke-width="0.9" opacity="0.75"/>
<line x1="470.25" y1="311.24" x2="470.25" y2="315.44" stroke="#6ea6cf" stroke-width="0.9" opacity="0.75"/>
<line x1="471.7" y1="312.46" x2="471.7" y2="316.66" stroke="#6ea6cf" stroke-width="0.9" opacity="0.75"/>
<line x1="473.15" y1="312.97" x2="473.15" y2="317.17" stroke="#6ea6cf" stroke-width="0.9" opacity="0.75"/>
<line x1="474.6" y1="313.19" x2="474.6" y2="317.39" stroke="#6ea6cf" stroke-width="0.9" opacity="0.75"/>
<line x1="476.05" y1="313.32" x2="476.05" y2="317.52" stroke="#6ea6cf" stroke-width="0.9" opacity="0.75"/>
<line x1="477.5" y1="313.44" x2="477.5" y2="317.64" stroke="#6ea6cf" stroke-width="0.9" opacity="0.75"/>
<line x1="478.95" y1="313.56" x2="478.95" y2="317.76" stroke="#6ea6cf" stroke-width="0.9" opacity="0.75"/>
<line x1="480.4" y1="313.68" x2="480.4" y2="317.88" stroke="#6ea6cf" stroke-width="0.9" opacity="0.75"/>
<line x1="481.85" y1="313.82" x2="481.85" y2="318.02" stroke="#6ea6cf" stroke-width="0.9" opacity="0.75"/>
<line x1="483.3" y1="314.55" x2="483.3" y2="318.75" stroke="#6ea6cf" stroke-width="0.9" opacity="0.75"/>
<line x1="484.75" y1="315.27" x2="484.75" y2="319.47" stroke="#6ea6cf" stroke-width="0.9" opacity="0.75"/>
<line x1="486.2" y1="316.0" x2="486.2" y2="320.2" stroke="#6ea6cf" stroke-width="0.9" opacity="0.75"/>
<line x1="487.65" y1="316.99" x2="487.65" y2="321.19" stroke="#6ea6cf" stroke-width="0.9" opacity="0.75"/>
<line x1="489.1" y1="318.16" x2="489.1" y2="322.36" stroke="#6ea6cf" stroke-width="0.9" opacity="0.75"/>
<line x1="490.55" y1="319.34" x2="490.55" y2="323.54" stroke="#6ea6cf" stroke-width="0.9" opacity="0.75"/>
<line x1="492.0" y1="320.73" x2="492.0" y2="324.93" stroke="#6ea6cf" stroke-width="0.9" opacity="0.75"/>
<line x1="493.45" y1="322.21" x2="493.45" y2="326.41" stroke="#6ea6cf" stroke-width="0.9" opacity="0.75"/>
<line x1="494.9" y1="323.68" x2="494.9" y2="327.88" stroke="#6ea6cf" stroke-width="0.9" opacity="0.75"/>
<line x1="496.35" y1="324.84" x2="496.35" y2="329.04" stroke="#6ea6cf" stroke-width="0.9" opacity="0.75"/>
<line x1="497.8" y1="326.0" x2="497.8" y2="330.2" stroke="#6ea6cf" stroke-width="0.9" opacity="0.75"/>
<line x1="499.25" y1="327.55" x2="499.25" y2="331.75" stroke="#6ea6cf" stroke-width="0.9" opacity="0.75"/>
<line x1="500.7" y1="329.97" x2="500.7" y2="334.17" stroke="#6ea6cf" stroke-width="0.9" opacity="0.75"/>
<line x1="502.15" y1="331.95" x2="502.15" y2="336.15" stroke="#6ea6cf" stroke-width="0.9" opacity="0.75"/>
<line x1="503.6" y1="333.71" x2="503.6" y2="337.91" stroke="#6ea6cf" stroke-width="0.9" opacity="0.75"/>
<line x1="505.05" y1="334.98" x2="505.05" y2="339.18" stroke="#6ea6cf" stroke-width="0.9" opacity="0.75"/>
<line x1="506.5" y1="335.47" x2="506.5" y2="339.67" stroke="#6ea6cf" stroke-width="0.9" opacity="0.75"/>
<line x1="507.95" y1="335.95" x2="507.95" y2="340.15" stroke="#6ea6cf" stroke-width="0.9" opacity="0.75"/>
<line x1="509.4" y1="336.43" x2="509.4" y2="340.63" stroke="#6ea6cf" stroke-width="0.9" opacity="0.75"/>
<line x1="510.85" y1="336.92" x2="510.85" y2="341.12" stroke="#6ea6cf" stroke-width="0.9" opacity="0.75"/>
<line x1="512.3" y1="337.4" x2="512.3" y2="341.6" stroke="#6ea6cf" stroke-width="0.9" opacity="0.75"/>
<line x1="513.75" y1="337.88" x2="513.75" y2="342.08" stroke="#6ea6cf" stroke-width="0.9" opacity="0.75"/>
<line x1="515.2" y1="339.0" x2="515.2" y2="343.2" stroke="#6ea6cf" stroke-width="0.9" opacity="0.75"/>
<line x1="516.65" y1="340.31" x2="516.65" y2="344.51" stroke="#6ea6cf" stroke-width="0.9" opacity="0.75"/>
<line x1="518.1" y1="341.7" x2="518.1" y2="345.9" stroke="#6ea6cf" stroke-width="0.9" opacity="0.75"/>
<line x1="519" y1="343.3" x2="519" y2="347.5" stroke="#6ea6cf" stroke-width="0.8" opacity="0.8"/>
<line x1="524.3" y1="343.3" x2="524.3" y2="347.5" stroke="#6ea6cf" stroke-width="0.8" opacity="0.8"/>
<line x1="527.6" y1="343.3" x2="527.6" y2="347.5" stroke="#6ea6cf" stroke-width="0.8" opacity="0.8"/>
<line x1="528.7" y1="343.3" x2="528.7" y2="347.5" stroke="#6ea6cf" stroke-width="0.8" opacity="0.8"/>
<line x1="531.4" y1="343.3" x2="531.4" y2="347.5" stroke="#6ea6cf" stroke-width="0.8" opacity="0.8"/>
<line x1="534.2" y1="343.3" x2="534.2" y2="347.5" stroke="#6ea6cf" stroke-width="0.8" opacity="0.8"/>
<line x1="535.1" y1="343.3" x2="535.1" y2="347.5" stroke="#6ea6cf" stroke-width="0.8" opacity="0.8"/>
<line x1="536" y1="343.3" x2="536" y2="347.5" stroke="#6ea6cf" stroke-width="0.8" opacity="0.8"/>
<line x1="536.9" y1="343.3" x2="536.9" y2="347.5" stroke="#6ea6cf" stroke-width="0.8" opacity="0.8"/>
<line x1="540.7" y1="343.3" x2="540.7" y2="347.5" stroke="#6ea6cf" stroke-width="0.8" opacity="0.8"/>
<line x1="541.6" y1="343.3" x2="541.6" y2="347.5" stroke="#6ea6cf" stroke-width="0.8" opacity="0.8"/>
<line x1="542.5" y1="343.3" x2="542.5" y2="347.5" stroke="#6ea6cf" stroke-width="0.8" opacity="0.8"/>
<line x1="543.4" y1="343.3" x2="543.4" y2="347.5" stroke="#6ea6cf" stroke-width="0.8" opacity="0.8"/>
<line x1="544.3" y1="343.3" x2="544.3" y2="347.5" stroke="#6ea6cf" stroke-width="0.8" opacity="0.8"/>
<line x1="545.2" y1="343.3" x2="545.2" y2="347.5" stroke="#6ea6cf" stroke-width="0.8" opacity="0.8"/>
<line x1="546.1" y1="343.3" x2="546.1" y2="347.5" stroke="#6ea6cf" stroke-width="0.8" opacity="0.8"/>
<line x1="547.3" y1="343.3" x2="547.3" y2="347.5" stroke="#6ea6cf" stroke-width="0.8" opacity="0.8"/>
<line x1="552.2" y1="343.3" x2="552.2" y2="347.5" stroke="#6ea6cf" stroke-width="0.8" opacity="0.8"/>
<line x1="556.1" y1="343.3" x2="556.1" y2="347.5" stroke="#6ea6cf" stroke-width="0.8" opacity="0.8"/>
<line x1="560.5" y1="343.3" x2="560.5" y2="347.5" stroke="#6ea6cf" stroke-width="0.8" opacity="0.8"/>
<line x1="564.3" y1="343.3" x2="564.3" y2="347.5" stroke="#6ea6cf" stroke-width="0.8" opacity="0.8"/>
<line x1="566" y1="343.3" x2="566" y2="347.5" stroke="#6ea6cf" stroke-width="0.8" opacity="0.8"/>
<line x1="570.3" y1="343.3" x2="570.3" y2="347.5" stroke="#6ea6cf" stroke-width="0.8" opacity="0.8"/>
<polyline points="403.3,272.5 404.1,272.5 404.1,275.4 405.0,275.4 405.9,275.4 405.9,278.4 406.7,278.4 407.1,278.4 407.1,280.5 407.5,280.5 407.9,280.5 407.9,282.5 408.4,282.5 408.8,282.5 408.8,284.6 409.2,284.6 409.6,284.6 409.6,286.7 410.0,286.7 410.4,286.7 410.4,289.2 410.8,289.2 411.2,289.2 411.2,291.7 411.7,291.7 412.1,291.7 412.1,294.2 412.5,294.2 413.4,294.2 413.4,297.1 414.2,297.1 415.0,297.1 415.0,300.1 415.9,300.1 416.3,300.1 416.3,302.1 416.7,302.1 417.1,302.1 417.1,304.2 417.5,304.2 419.6,304.2 419.6,307.6 421.7,307.6 423.4,307.6 423.4,310.9 425.0,310.9 425.9,310.9 425.9,313.4 426.7,313.4 427.5,313.4 427.5,315.9 428.4,315.9 429.6,315.9 429.6,318.4 430.9,318.4 432.1,318.4 432.1,320.9 433.4,320.9 434.4,320.9 434.4,323.0 435.5,323.0 436.6,323.0 436.6,325.1 437.6,325.1 438.6,325.1 438.6,327.2 439.6,327.2 440.7,327.2 440.7,329.3 441.7,329.3 442.6,329.3 442.6,331.4 443.4,331.4 444.2,331.4 444.2,333.4 445.1,333.4 446.1,333.4 446.1,335.9 447.1,335.9 448.2,335.9 448.2,338.5 449.2,338.5 451.3,338.5 451.3,341.8 453.4,341.8 454.7,341.8 454.7,344.4 455.9,344.4 457.2,344.4 457.2,346.9 458.5,346.9 459.4,346.9 459.4,349.2 460.4,349.2 461.3,349.2 461.3,351.6 462.2,351.6 464.1,351.6 464.1,353.5 466.0,353.5 466.5,353.5 466.5,356.3 466.9,356.3 467.4,356.3 467.4,359.1 467.9,359.1 468.6,359.1 468.6,361.5 469.3,361.5 470.0,361.5 470.0,363.8 470.7,363.8 472.1,363.8 472.1,366.7 473.5,366.7 479.1,366.7 479.6,366.7 479.6,369.5 480.1,369.5 480.5,369.5 480.5,372.3 481.0,372.3 482.4,372.3 482.4,374.8 483.8,374.8 486.1,374.8 486.1,376.1 488.5,376.1 489.9,376.1 489.9,378.0 491.4,378.0 492.8,378.0 492.8,380.8 494.2,380.8 494.6,380.8 494.6,382.7 495.1,382.7 498.0,382.7 498.0,382.3 500.8,382.3 506.4,382.3 506.9,382.3 506.9,384.5 507.4,384.5 508.8,384.5 508.8,386.0 510.2,386.0 514.9,386.0 515.8,386.0 515.8,389.8 516.8,389.8 518.2,389.8 518.2,390.5 519.6,390.5 548.8,390.5 548.8,400.3 551.4,400.3 551.4,413.4 570.2,413.4" fill="none" stroke="#b6a3dd" stroke-width="1.0" opacity="0.9"/>
<line x1="409" y1="281.9848484848485" x2="409" y2="286.3848484848485" stroke="#b6a3dd" stroke-width="0.9" />
<line x1="414" y1="294.6029411764706" x2="414" y2="299.0029411764706" stroke="#b6a3dd" stroke-width="0.9" />
<line x1="418" y1="302.4047619047619" x2="418" y2="306.8047619047619" stroke="#b6a3dd" stroke-width="0.9" />
<line x1="422" y1="305.70000000000005" x2="422" y2="310.1" stroke="#b6a3dd" stroke-width="0.9" />
<line x1="426" y1="310.17058823529413" x2="426" y2="314.5705882352941" stroke="#b6a3dd" stroke-width="0.9" />
<line x1="431" y1="316.3" x2="431" y2="320.7" stroke="#b6a3dd" stroke-width="0.9" />
<line x1="434" y1="319.3" x2="434" y2="323.7" stroke="#b6a3dd" stroke-width="0.9" />
<line x1="438" y1="323.309756097561" x2="438" y2="327.70975609756096" stroke="#b6a3dd" stroke-width="0.9" />
<line x1="442" y1="327.4617647058824" x2="442" y2="331.86176470588236" stroke="#b6a3dd" stroke-width="0.9" />
<line x1="447" y1="333.56341463414634" x2="447" y2="337.9634146341463" stroke="#b6a3dd" stroke-width="0.9" />
<line x1="450" y1="336.92857142857144" x2="450" y2="341.3285714285714" stroke="#b6a3dd" stroke-width="0.9" />
<line x1="452" y1="338.50000000000006" x2="452" y2="342.90000000000003" stroke="#b6a3dd" stroke-width="0.9" />
<line x1="456" y1="342.2" x2="456" y2="346.59999999999997" stroke="#b6a3dd" stroke-width="0.9" />
<line x1="460" y1="346.6054054054054" x2="460" y2="351.0054054054054" stroke="#b6a3dd" stroke-width="0.9" />
<line x1="462" y1="349.145945945946" x2="462" y2="353.54594594594596" stroke="#b6a3dd" stroke-width="0.9" />
<line x1="464" y1="350.3" x2="464" y2="354.7" stroke="#b6a3dd" stroke-width="0.9" />
<line x1="472" y1="362.9464285714286" x2="472" y2="367.3464285714286" stroke="#b6a3dd" stroke-width="0.9" />
<line x1="474" y1="364.5" x2="474" y2="368.9" stroke="#b6a3dd" stroke-width="0.9" />
<line x1="477" y1="364.5" x2="477" y2="368.9" stroke="#b6a3dd" stroke-width="0.9" />
<line x1="479" y1="364.5" x2="479" y2="368.9" stroke="#b6a3dd" stroke-width="0.9" />
<line x1="481" y1="370.1" x2="481" y2="374.5" stroke="#b6a3dd" stroke-width="0.9" />
<line x1="485" y1="372.93191489361703" x2="485" y2="377.331914893617" stroke="#b6a3dd" stroke-width="0.9" />
<line x1="489" y1="374.2275862068966" x2="489" y2="378.6275862068966" stroke="#b6a3dd" stroke-width="0.9" />
<line x1="492" y1="376.40000000000003" x2="492" y2="380.8" stroke="#b6a3dd" stroke-width="0.9" />
<line x1="497" y1="380.3666666666667" x2="497" y2="384.76666666666665" stroke="#b6a3dd" stroke-width="0.9" />
<line x1="499" y1="380.2263157894737" x2="499" y2="384.62631578947367" stroke="#b6a3dd" stroke-width="0.9" />
<line x1="502" y1="380.1" x2="502" y2="384.5" stroke="#b6a3dd" stroke-width="0.9" />
<line x1="504" y1="380.1" x2="504" y2="384.5" stroke="#b6a3dd" stroke-width="0.9" />
<line x1="508" y1="382.62142857142857" x2="508" y2="387.02142857142854" stroke="#b6a3dd" stroke-width="0.9" />
<line x1="511" y1="383.8" x2="511" y2="388.2" stroke="#b6a3dd" stroke-width="0.9" />
<line x1="513" y1="383.8" x2="513" y2="388.2" stroke="#b6a3dd" stroke-width="0.9" />
<line x1="515" y1="384.00000000000006" x2="515" y2="388.40000000000003" stroke="#b6a3dd" stroke-width="0.9" />
<line x1="518" y1="387.90000000000003" x2="518" y2="392.3" stroke="#b6a3dd" stroke-width="0.9" />
<line x1="520" y1="388.3" x2="520" y2="392.7" stroke="#b6a3dd" stroke-width="0.9" />
<line x1="539.5" y1="388.3" x2="539.5" y2="392.7" stroke="#b6a3dd" stroke-width="0.9" />
<line x1="556.6" y1="411.2" x2="556.6" y2="415.59999999999997" stroke="#b6a3dd" stroke-width="0.9" />
<line x1="566.5" y1="411.2" x2="566.5" y2="415.59999999999997" stroke="#b6a3dd" stroke-width="0.9" />
<line x1="570.2" y1="411.2" x2="570.2" y2="415.59999999999997" stroke="#b6a3dd" stroke-width="0.9" />
</svg>
</body></html>
